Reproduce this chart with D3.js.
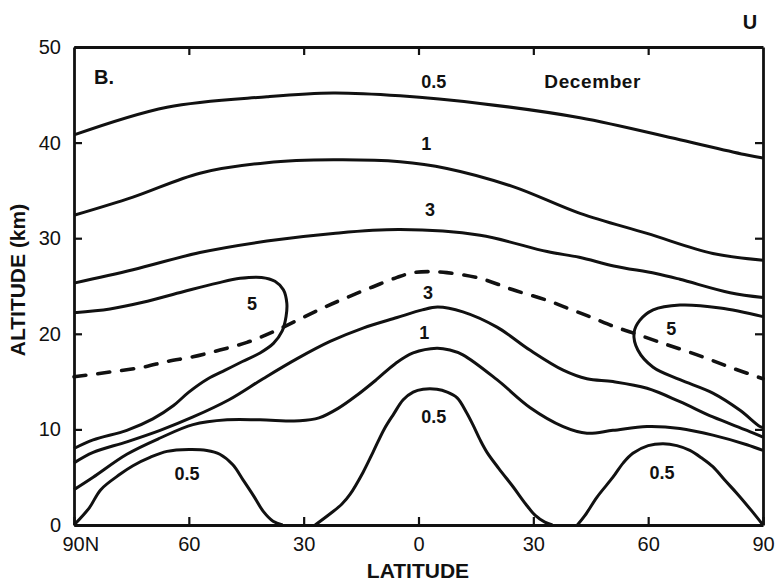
<!DOCTYPE html>
<html>
<head>
<meta charset="utf-8">
<script src="https://cdn.jsdelivr.net/npm/d3@7"></script>
<style>
  body { margin: 0; background: #fff; }
  svg text { font-family: "Liberation Sans", Arial, Helvetica, sans-serif; fill: #111; }
</style>
</head>
<body>
<div class="chart"></div>
<script>
// contour lines: [latitude (N positive), altitude km]
const upper05 = [[90,40.8],[65.7,43.7],[39.6,44.8],[22.3,45.2],[4.8,44.9],[-16.1,44.1],[-42.2,42.6],[-68.3,40.3],[-85.8,38.7],[-90,38.4]];
const upper1 = [[90,32.4],[74.6,34.3],[57.1,36.8],[39.6,37.9],[22.3,38.2],[4.8,38.0],[-7.4,37.3],[-24.7,35.4],[-42.2,32.6],[-59.7,30.5],[-76.9,28.4],[-90,27.7]];
const upper3 = [[90,25.3],[74.6,26.7],[57.1,28.5],[39.6,29.7],[22.3,30.5],[4.8,30.9],[-16.1,30.3],[-33.6,28.6],[-42,28.0],[-51,27.1],[-62,26.3],[-68.3,25.7],[-81.4,24.3],[-90,23.8]];
const dashed3 = [[90,15.5],[80.6,16.0],[72.0,16.5],[65.7,17.1],[58.9,17.6],[51.9,18.3],[44.8,19.1],[38.0,20.2],[31.7,21.4],[25,22.7],[18.7,23.8],[12,24.9],[5.6,25.9],[1.4,26.4],[-3.0,26.5],[-7.4,26.4],[-16.1,25.8],[-24.7,24.6],[-33.6,23.5],[-40.1,22.5],[-45.3,21.7],[-50.8,20.8],[-56,20.1],[-63.9,19.0],[-72.8,17.8],[-81.4,16.5],[-90,15.3]];
const loop5N = [[90,22.2],[80.6,22.6],[72,23.3],[61.5,24.4],[52.6,25.3],[46.6,25.8],[41,25.9],[37.5,25.5],[35.3,24.6],[34.4,23.2],[34.6,21.8],[35.6,20.3],[37.9,19.0],[41.4,18.0],[46,17.1],[50.5,16.2],[55,15.3],[60,13.9],[64,12.5],[69.4,11.1],[76.2,9.9],[85,8.9],[90,8.0]];
const loop5S = [[-90,21.8],[-78.8,22.7],[-68.3,23.0],[-61.3,22.5],[-57.8,21.4],[-56.3,20.1],[-57.3,18.3],[-61.3,16.5],[-68.3,15.2],[-76.9,13.8],[-84.0,12.0],[-89.2,10.3],[-90,10.2]];
const lower3 = [[90,6.5],[85,7.6],[76.2,8.7],[67.5,9.9],[58.9,11.3],[49.5,13.1],[40.6,15.3],[31.7,17.4],[23.1,19.2],[14.5,20.6],[5.6,21.7],[-1,22.5],[-5,22.8],[-11.6,22.3],[-20.5,20.7],[-29.1,18.3],[-37.8,16.2],[-44,15.3],[-50.8,15.0],[-59.7,14.3],[-68.3,12.9],[-76.9,11.3],[-85.8,9.9],[-90,9.2]];
const lower1 = [[90,3.7],[85,5.0],[76.2,7.4],[67.5,9.1],[58.9,10.5],[50,11.0],[41.4,11.0],[31,10.9],[26,11.2],[21,12.2],[16,13.6],[11,15.2],[6,16.9],[1.4,18.0],[-4.8,18.5],[-8.2,18.3],[-11.6,17.8],[-20.5,15.2],[-29.1,12.3],[-37.8,10.3],[-44,9.6],[-50.8,9.9],[-59.7,10.3],[-68.3,10.1],[-76.9,9.4],[-85.8,8.4],[-90,7.8]];
const low05N = [[90,0],[86,1.8],[83,3.7],[78,5.3],[74.6,6.2],[70,7.1],[65.7,7.7],[60,7.9],[55.3,7.8],[51.9,7.4],[48.5,6.3],[45.8,4.7],[43,3.0],[40.5,1.4],[38,0.4],[35.5,0]];
const low05Eq = [[27,0],[23,1.2],[20,2.2],[17.9,3.2],[14.5,5.5],[11.9,7.6],[9,10.0],[6.5,11.6],[4,13.1],[1.4,13.9],[-1.2,14.2],[-4.8,14.2],[-7.5,13.9],[-10.1,13.3],[-12.5,11.8],[-14.2,10.5],[-16.1,8.9],[-17.9,7.6],[-21,5.9],[-24.7,4.0],[-28,2.2],[-30.5,1.0],[-33,0.3],[-35,0]];
const low05S = [[-41.5,0],[-43.5,1.0],[-46.6,2.9],[-50.8,5.0],[-53.5,6.5],[-56,7.5],[-60,8.3],[-63.9,8.5],[-67.5,8.3],[-70.9,7.8],[-74,7.0],[-76.9,6.1],[-80,4.7],[-83.2,3.3],[-87,1.5],[-90,0]];

const solidLines = [upper05, upper1, upper3, loop5N, loop5S, lower3, lower1, low05N, low05Eq, low05S];
const dashedLines = [dashed3];

const latTicks = [90, 60, 30, 0, -30, -60, -90];
const altTicks = [0, 10, 20, 30, 40, 50];

// contour value labels, placed in data units
const labelText = ['0.5', '1', '3', '3', '1', '0.5', '5', '5', '0.5', '0.5'];
const labelLat = [-4, -2, -3, -2.5, -1.5, -4, 43.5, -66, 60.5, -63.6];
const labelAlt = [46.4, 39.9, 33.0, 24.3, 20.1, 11.3, 23.2, 20.6, 5.4, 5.5];

const width = 782;
const height = 583;

const x = d3.scaleLinear().domain([90, -90]).range([74, 763]);
const y = d3.scaleLinear().domain([0, 50]).range([525, 47]);

const svg = d3.select('.chart').append('svg')
  .attr('width', width).attr('height', height);

const line = d3.line()
  .x(d => x(d[0]))
  .y(d => y(d[1]))
  .curve(d3.curveCatmullRom.alpha(0.5));

svg.selectAll('.contour').data(solidLines)
  .enter().append('path')
  .attr('class', 'contour')
  .attr('d', line)
  .attr('fill', 'none')
  .attr('stroke', '#111')
  .attr('stroke-width', 3)
  .attr('stroke-linejoin', 'round');

svg.selectAll('.dashed').data(dashedLines)
  .enter().append('path')
  .attr('class', 'dashed')
  .attr('d', line)
  .attr('fill', 'none')
  .attr('stroke', '#111')
  .attr('stroke-width', 3.6)
  .attr('stroke-dasharray', '12,12')
  .attr('stroke-linecap', 'round');

// axes, ticks point inward
const fmtLat = d => d === 90 ? '90N' : Math.abs(d);

const bottom = svg.append('g')
  .attr('transform', `translate(0, ${y(0)})`)
  .call(d3.axisBottom(x).tickValues(latTicks).tickFormat(fmtLat).tickSize(-8).tickSizeOuter(0).tickPadding(12));
bottom.selectAll('text').filter(d => d === 90).attr('text-anchor', 'start').attr('x', -12);

svg.append('g')
  .attr('transform', `translate(0, ${y(50)})`)
  .call(d3.axisTop(x).tickValues(latTicks.slice(1, -1)).tickFormat('').tickSize(-8).tickSizeOuter(0));

svg.append('g')
  .attr('transform', `translate(${x(90)}, 0)`)
  .call(d3.axisLeft(y).tickValues(altTicks).tickSize(-8).tickSizeOuter(0).tickPadding(13));

svg.append('g')
  .attr('transform', `translate(${x(-90)}, 0)`)
  .call(d3.axisRight(y).tickValues(altTicks.slice(1, -1)).tickFormat('').tickSize(-8).tickSizeOuter(0));

svg.selectAll('.domain').attr('stroke', '#111').attr('stroke-width', 2.8);
svg.selectAll('.tick line').attr('stroke', '#111').attr('stroke-width', 2.2);
svg.selectAll('.tick text').attr('font-size', 20).attr('fill', '#111');

// contour labels
svg.selectAll('.clabel').data(labelText)
  .enter().append('text')
  .attr('class', 'clabel')
  .attr('x', (d, i) => x(labelLat[i]))
  .attr('y', (d, i) => y(labelAlt[i]))
  .attr('dy', '0.36em')
  .attr('text-anchor', 'middle')
  .attr('font-size', 18)
  .attr('font-weight', 'bold')
  .text(d => d);

svg.append('text')
  .attr('x', x(-45.5)).attr('y', y(46.4)).attr('dy', '0.36em')
  .attr('text-anchor', 'middle')
  .attr('font-size', 19).attr('font-weight', 'bold')
  .attr('letter-spacing', 0.6)
  .text('December');

svg.append('text')
  .attr('x', 94).attr('y', 84)
  .attr('font-size', 20).attr('font-weight', 'bold')
  .text('B.');

svg.append('text')
  .attr('x', 750).attr('y', 29)
  .attr('text-anchor', 'middle')
  .attr('font-size', 20).attr('font-weight', 'bold')
  .text('U');

// axis titles
svg.append('text')
  .attr('x', 418).attr('y', 578)
  .attr('text-anchor', 'middle')
  .attr('font-size', 21).attr('font-weight', 'bold')
  .text('LATITUDE');

svg.append('text')
  .attr('transform', 'translate(25, 280) rotate(-90)')
  .attr('text-anchor', 'middle')
  .attr('font-size', 21).attr('font-weight', 'bold')
  .text('ALTITUDE (km)');
</script>
</body>
</html>
